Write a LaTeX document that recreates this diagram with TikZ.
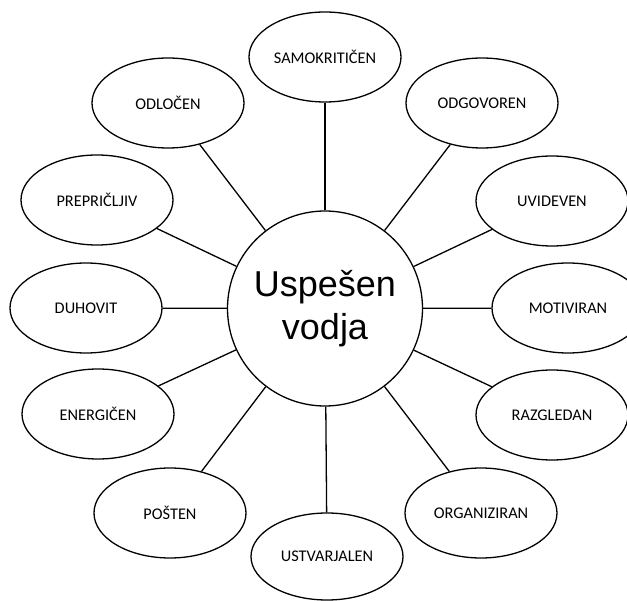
\documentclass[tikz,border=0pt]{standalone}
\usepackage{fontspec}
\setmainfont{Carlito}
\newfontfamily\titlefont{Liberation Sans}
\usetikzlibrary{shapes.geometric}

\tikzset{
  trait/.style={ellipse, draw, line width=1.3pt, minimum width=152pt, minimum height=90pt, inner sep=0pt, font=\fontsize{16.3}{18}\selectfont},
  lien/.style={line width=1.3pt}
}

\begin{document}
\begin{tikzpicture}[x=1pt,y=-1pt]

% Cadre
\useasboundingbox (0,0) rectangle (627,601);
\clip (0,0) rectangle (627,601);

% Cercle central
\node[circle, draw, line width=1.3pt, minimum size=195pt, inner sep=0pt, align=center,
      font=\titlefont\fontsize{36}{43}\selectfont] (c) at (325,308.5) {Uspešen\\vodja};

% Les qualités
\node[trait] (samo) at (325,57) {SAMOKRITIČEN};
\node[trait] (odlo) at (168,103) {ODLOČEN};
\node[trait] (odgo) at (482,103) {ODGOVOREN};
\node[trait] (prep) at (97,200) {PREPRIČLJIV};
\node[trait] (uvid) at (552,201) {UVIDEVEN};
\node[trait] (duho) at (86,308) {DUHOVIT};
\node[trait] (moti) at (568,308) {MOTIVIRAN};
\node[trait] (ener) at (98,414) {ENERGIČEN};
\node[trait] (razg) at (552,415) {RAZGLEDAN};
\node[trait] (post) at (170,513) {POŠTEN};
\node[trait] (orga) at (481,513) {ORGANIZIRAN};
\node[trait, minimum height=87pt] (ustv) at (327,556.5) {USTVARJALEN};

% Les liens
\foreach \n in {samo,odlo,odgo,prep,uvid,duho,moti,ener,razg,post,orga,ustv}
  \draw[lien] (c) -- (\n);

\end{tikzpicture}
\end{document}
